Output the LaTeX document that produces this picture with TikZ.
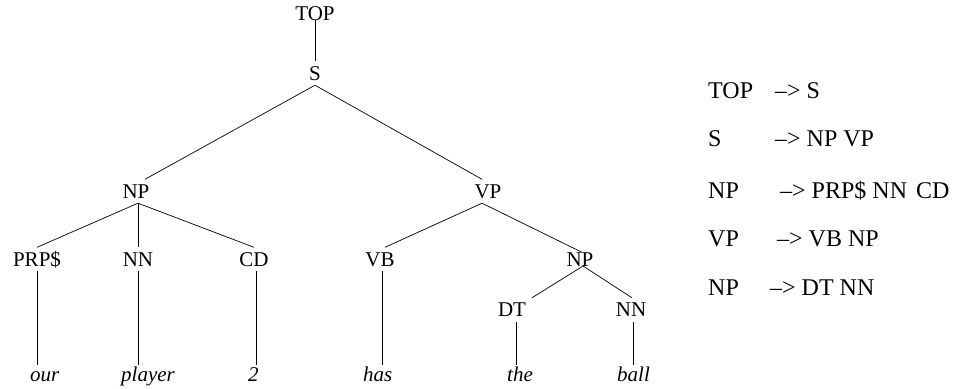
\documentclass[tikz,border=0pt]{standalone}
\usepackage{fontspec}
\setmainfont{Liberation Serif}
\begin{document}
\begin{tikzpicture}[x=1pt,y=-1pt,
  lab/.style={font=\fontsize{21}{25}\selectfont, inner sep=4pt, text height=14.5pt, text depth=1pt, anchor=base},
  leaf/.style={font=\fontsize{21}{25}\selectfont\itshape, inner sep=1pt, text height=15.5pt, text depth=5pt, anchor=base west},
  rule/.style={font=\fontsize{24}{28}\selectfont, inner sep=0pt, anchor=base west},
  edge/.style={line width=0.7pt}]
\useasboundingbox (0,0) rectangle (955,388);
% tree labels
\node[lab] (TOP) at (315,20) {TOP};
\node[lab] (S) at (315,80) {S};
\node[lab] (NPa) at (136,198) {NP};
\node[lab] (VP) at (488,198) {VP};
\node[lab] (PRP) at (37,266) {PRP\$};
\node[lab] (NNa) at (138,266) {NN};
\node[lab] (CD) at (254,266) {CD};
\node[lab] (VB) at (380,266) {VB};
\node[lab] (NPb) at (580,266) {NP};
\node[lab] (DT) at (512,316.5) {DT};
\node[lab] (NNb) at (631,316.5) {NN};
% leaves
\node[leaf] (our) at (29,381.5) {our};
\node[leaf] (player) at (120,381.5) {player};
\node[leaf] (two) at (247,381.5) {2};
\node[leaf] (has) at (362,381.5) {has};
\node[leaf] (the) at (506,381.5) {the};
\node[leaf] (ball) at (616,381.5) {ball};
% edges
\draw[edge] (TOP.base) -- (S.north);
\draw[edge] (S.south) -- ([xshift=9pt]NPa.north);
\draw[edge] (S.south) -- ([xshift=-6pt]VP.north);
\draw[edge] ([xshift=2pt]NPa.south) -- (PRP.north);
\draw[edge] ([xshift=2pt]NPa.south) -- (NNa.north);
\draw[edge] ([xshift=2pt]NPa.south) -- (CD.north);
\draw[edge] ([xshift=-6pt]VP.south) -- ([xshift=5pt]VB.north);
\draw[edge] ([xshift=-6pt]VP.south) -- ([xshift=2pt,yshift=-5pt]NPb.north);
\draw[edge] ([xshift=3pt]NPb.base) -- ([xshift=20pt]DT.north);
\draw[edge] ([xshift=3pt]NPb.base) -- ([xshift=1pt]NNb.north);
% vertical edges to leaves
\draw[edge] (PRP.south) -- (PRP.south |- our.north);
\draw[edge] (NNa.south) -- (NNa.south |- player.north);
\draw[edge] ([xshift=2pt]CD.south) -- ([xshift=2pt]CD.south |- two.north);
\draw[edge] ([xshift=2pt]VB.south) -- ([xshift=2pt]VB.south |- has.north);
\draw[edge] ([xshift=4pt]DT.south) -- ([xshift=4pt]DT.south |- the.north);
\draw[edge] ([xshift=2pt]NNb.south) -- ([xshift=2pt]NNb.south |- ball.north);
% grammar rules
\node[rule] (r1l) at (708,98.3) {TOP};
\node[rule] (r1r) at (775,98.3) {--{}> S};
\node[rule] (r2l) at (708,146.5) {S};
\node[rule] (r2r) at (775,146.5) {--{}> NP VP};
\node[rule] (r3l) at (708,198) {NP};
\node[rule] (r3r) at (780,198) {--{}> PRP\$ NN\hspace{9pt}CD};
\node[rule] (r4l) at (708,246.5) {VP};
\node[rule] (r4r) at (777,246.5) {--{}> VB NP};
\node[rule] (r5l) at (708,295) {NP};
\node[rule] (r5r) at (770,295) {--{}> DT NN};
\end{tikzpicture}
\end{document}
